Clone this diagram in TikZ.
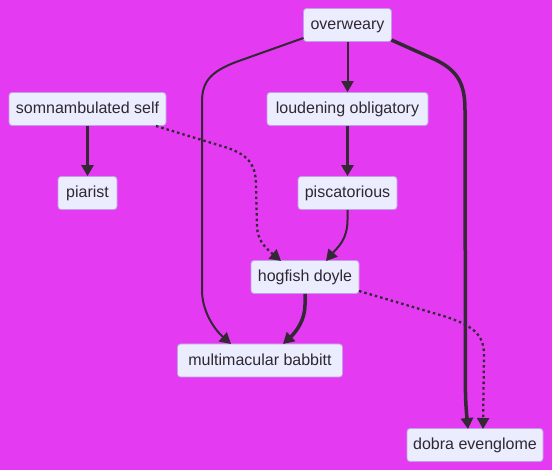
\documentclass[tikz,border=0pt]{standalone}
\usepackage{fontspec}
\setmainfont{Liberation Sans}
\usetikzlibrary{arrows.meta}
\definecolor{bgc}{RGB}{228,58,242}
\definecolor{nfill}{RGB}{236,236,255}
\definecolor{nborder}{RGB}{190,160,235}
\definecolor{edgec}{RGB}{51,40,52}
\definecolor{textc}{RGB}{45,40,50}
\tikzset{
  box/.style={draw=nborder, line width=0.8pt, fill=nfill, rounded corners=3pt, minimum height=33pt, inner xsep=0pt, inner ysep=0pt, text height=12.5pt, text depth=3pt, font=\fontsize{16}{19}\selectfont, text=textc},
  link/.style={draw=edgec, line width=2pt, -{Triangle[length=11pt,width=12pt]}},
  thicklink/.style={link, line width=3.5pt},
  dotlink/.style={link, line width=2.3pt, dash pattern=on 2.5pt off 3pt},
}
\begin{document}
\begin{tikzpicture}[x=1pt,y=-1pt]
\fill[bgc] (0,0) rectangle (552,470);
\useasboundingbox (0,0) rectangle (552,470);
\node[box, minimum width=88pt] (ow) at (347.5,25) {overweary};
\node[box, minimum width=157pt] (so) at (87.5,109) {somnambulated self};
\node[box, minimum width=161pt] (lo) at (347.5,109) {loudening obligatory};
\node[box, minimum width=59pt] (pi) at (87.5,193) {piarist};
\node[box, minimum width=99pt] (ps) at (347.5,193) {piscatorious};
\node[box, minimum width=108pt] (hd) at (305,277) {hogfish doyle};
\node[box, minimum width=165pt] (mb) at (260,360.5) {multimacular babbitt};
\node[box, minimum width=136pt] (de) at (475,445) {dobra evenglome};

\coordinate (owl) at (303.5,38);
\coordinate (owr) at (391.5,40);
\coordinate (sor) at (156,126);
\coordinate (hdr) at (359,291);
\coordinate (hdl) at (281,261);
\coordinate (hdm) at (326,261);
\coordinate (mbl) at (231,344);
\coordinate (mbr) at (283,344);
\coordinate (del) at (468,429);
\coordinate (der) at (483,429);

\draw[link] (ow.south) -- (lo.north);
\draw[thicklink] (lo.south) -- (ps.north);
\draw[thicklink] (so.south) -- (pi.north);
\draw[link] (ps.south) -- (347.5,220) .. controls (347.5,240) and (337,248) .. (hdm);
\draw[dotlink] (sor) -- (228,148) .. controls (250,156) and (256,166) .. (256,186) -- (257,228) .. controls (258,242) and (268,250) .. (hdl);
\draw[link] (owl) -- (236,62) .. controls (210,72) and (202,82) .. (202,102) -- (202,290) .. controls (202,312) and (215,330) .. (mbl);
\draw[thicklink] (hd.south) -- (305,305) .. controls (305,320) and (296,332) .. (mbr);
\draw[thicklink] (owr) -- (436,60) .. controls (458,71) and (465,84) .. (465,110) -- (465.5,395) .. controls (466,410) and (467,418) .. (del);
\draw[dotlink] (hdr) -- (440,315) .. controls (474,325) and (484,335) .. (484,355) -- (der);
\end{tikzpicture}
\end{document}
